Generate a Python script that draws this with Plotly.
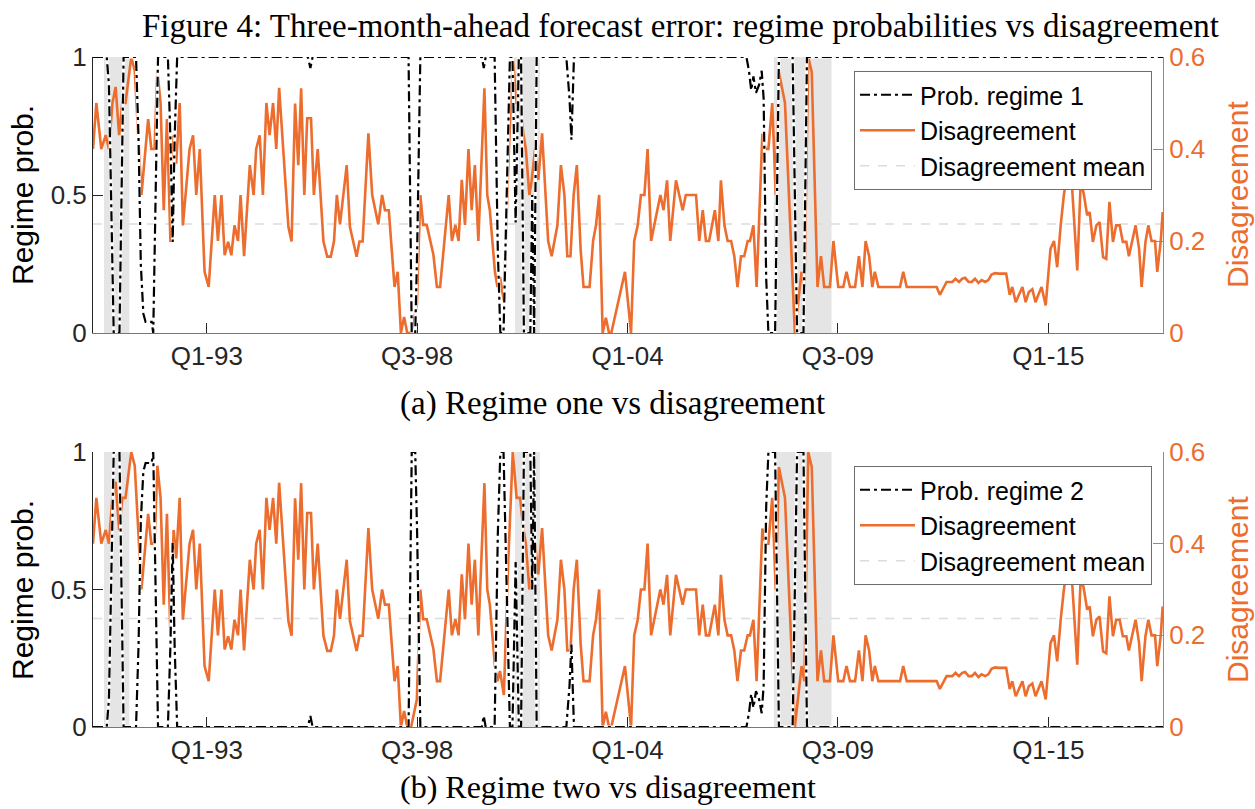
import plotly.graph_objects as go

# ---------------- data (x = months since March 1990) ----------------
disag_month = [0.0, 1.05, 2.6, 4.0, 5.0, 6.1, 7.1, 8.2, 9.2, 10.2, 12.0, 13.1, 15.2, 17.3, 18.3, 19.3,
               20.2, 21.2, 22.2, 23.2, 24.3, 25.3, 26.1, 27.2, 28.2, 30.3, 31.4, 32.4, 33.5, 35.0, 36.3,
               38.2, 39.2, 40.3, 41.3, 42.4, 43.4, 44.4, 45.5, 46.3, 47.4, 49.2, 50.4, 51.2, 52.3, 53.3,
               54.4, 55.4, 56.5, 57.5, 58.4, 61.3, 62.3, 63.4, 64.4, 65.3, 66.3, 67.2, 68.4, 69.3, 70.5,
               72.3, 73.5, 74.6, 75.6, 76.5, 77.5, 79.6, 80.6, 82.7, 83.6, 84.6, 86.4, 87.6, 89.5, 90.7,
               91.6, 92.8, 94.6, 95.6, 96.6, 97.6, 98.6, 99.8, 101.6, 102.7, 103.6, 104.7, 106.8, 107.9,
               108.9, 111.6, 112.6, 113.7, 114.7, 115.7, 116.7, 117.8, 118.8, 119.8, 120.9, 122.8, 123.7,
               124.5, 126.1, 126.9, 127.7, 128.9, 130.3, 131.7, 132.9, 134.0, 135.0, 135.8, 136.9, 137.6,
               138.7, 139.7, 140.9, 142.8, 143.9, 145.7, 146.8, 147.9, 148.8, 149.8, 150.8, 151.8, 153.0,
               153.9, 155.8, 156.9, 157.8, 158.8, 159.9, 160.9, 161.9, 162.6, 166.9, 168.8, 169.8, 170.9,
               171.9, 173.0, 174.0, 175.1, 178.0, 179.0, 180.1, 181.1, 182.9, 184.0, 185.0, 186.0, 189.2,
               190.2, 191.3, 192.3, 193.3, 195.1, 196.2, 197.0, 198.1, 199.1, 200.2, 201.2, 202.2, 203.3,
               204.3, 205.4, 206.1, 207.2, 208.2, 210.0, 211.0, 211.9, 213.1, 214.2, 215.2, 217.1, 218.7,
               220.2, 222.3, 223.2, 224.4, 225.5, 227.3, 228.4, 229.4, 231.2, 232.3, 233.8, 235.4, 236.4,
               237.5, 239.1, 240.3, 241.4, 242.4, 243.5, 244.5, 245.3, 246.4, 253.2, 254.2, 255.3, 264.7,
               265.7, 267.8, 268.8, 269.6, 270.6, 271.7, 272.7, 273.6, 274.7, 275.7, 276.7, 277.8, 278.8,
               279.9, 280.9, 281.9, 283.0, 284.2, 286.5, 287.6, 288.4, 289.5, 290.5, 291.6, 292.6, 293.6,
               294.7, 295.7, 296.6, 297.6, 298.9, 300.4, 301.5, 302.5, 303.6, 304.6, 305.7, 306.7, 308.8,
               309.9, 310.9, 311.9, 312.7, 313.7, 314.8, 315.8, 316.9, 317.9, 318.9, 320.0, 321.0, 322.1,
               323.1, 324.2, 325.0, 327.1, 328.2, 329.0, 330.2, 331.1, 332.1, 333.2, 333.9, 335.0, 335.6]
disag_value = [0.40, 0.50, 0.40, 0.43, 0.40, 0.50, 0.535, 0.43, 0.50, 0.50, 0.60, 0.57, 0.30, 0.465, 0.40, 0.40,
               0.57, 0.50, 0.267, 0.465, 0.198, 0.43, 0.368, 0.50, 0.234, 0.40, 0.43, 0.30, 0.40, 0.133, 0.10,
               0.30, 0.20, 0.30, 0.169, 0.198, 0.169, 0.234, 0.20, 0.30, 0.167, 0.365, 0.30, 0.40, 0.43, 0.30,
               0.50, 0.43, 0.50, 0.40, 0.533, 0.231, 0.199, 0.499, 0.365, 0.532, 0.30, 0.467, 0.467, 0.30, 0.40,
               0.199, 0.166, 0.166, 0.199, 0.30, 0.236, 0.365, 0.231, 0.166, 0.199, 0.199, 0.434, 0.30, 0.236, 0.30,
               0.267, 0.267, 0.10, 0.133, 0.0, 0.035, 0.0, 0.0, 0.06, 0.30, 0.235, 0.235, 0.17, 0.10,
               0.10, 0.30, 0.20, 0.235, 0.20, 0.333, 0.235, 0.40, 0.267, 0.365, 0.20, 0.532, 0.30,
               0.267, 0.133, 0.10, 0.122, 0.07, 0.365, 0.60, 0.50, 0.50, 0.434, 0.40, 0.30, 0.33,
               0.40, 0.333, 0.434, 0.20, 0.167, 0.234, 0.365, 0.30, 0.167, 0.167, 0.30, 0.365, 0.18,
               0.10, 0.10, 0.20, 0.234, 0.30, 0.0, 0.033, 0.0, 0.0, 0.133, 0.0, 0.20, 0.234,
               0.30, 0.30, 0.40, 0.20, 0.30, 0.267, 0.332, 0.20, 0.332, 0.30, 0.267, 0.30, 0.30,
               0.20, 0.267, 0.20, 0.20, 0.267, 0.20, 0.332, 0.234, 0.20, 0.20, 0.167, 0.10, 0.167,
               0.167, 0.20, 0.20, 0.234, 0.10, 0.433, 0.40, 0.40, 0.50, 0.30, 0.567, 0.50, 0.234,
               0.0, 0.133, 0.10, 0.60, 0.567, 0.10, 0.167, 0.10, 0.10, 0.20, 0.10, 0.10, 0.133,
               0.10, 0.10, 0.167, 0.10, 0.20, 0.167, 0.10, 0.133, 0.10, 0.10, 0.133, 0.10, 0.10,
               0.083, 0.111, 0.111, 0.111, 0.118, 0.111, 0.118, 0.12, 0.111, 0.111, 0.118, 0.109, 0.115,
               0.111, 0.115, 0.127, 0.13, 0.129, 0.129, 0.083, 0.10, 0.067, 0.083, 0.10, 0.067, 0.089,
               0.095, 0.067, 0.083, 0.10, 0.06, 0.183, 0.20, 0.143, 0.234, 0.30, 0.35, 0.37, 0.136,
               0.332, 0.30, 0.256, 0.263, 0.198, 0.234, 0.241, 0.165, 0.161, 0.285, 0.198, 0.234, 0.234,
               0.198, 0.198, 0.167, 0.234, 0.183, 0.10, 0.198, 0.234, 0.20, 0.20, 0.133, 0.20, 0.263]
disag_mean = 0.237

regime1_month = [0, 4.3, 5.0, 6.0, 6.5, 8.3, 9.0, 9.6, 13.5, 14.3, 15.0, 15.8, 16.5, 18.4, 18.9, 19.6,
                 20.4, 23.5, 24.3, 25.0, 25.6, 26.4, 67.4, 68.2, 68.9, 99.0, 100.0, 101.1, 101.7, 102.7,
                 122.0, 122.6, 123.2, 126.0, 127.0, 127.8, 128.8, 129.8, 130.8, 131.6, 132.6, 133.6, 134.3,
                 135.2, 137.2, 137.8, 138.4, 139.2, 148.5, 149.5, 150.1, 150.9, 205.0, 205.8, 206.5, 207.2,
                 208.0, 209.0, 209.8, 210.4, 211.2, 211.9, 214.0, 214.6, 215.2, 219.5, 220.2, 220.9, 222.9,
                 223.5, 224.0, 335.7]
regime1_prob = [1, 1, 0.9, 0.2, 0, 0, 0.5, 1, 1, 0.7, 0.25, 0.07, 0.04, 0.04, 0, 0.5,
                1, 1, 0.7, 0.33, 0.7, 1, 1, 0.96, 1, 1, 0, 0, 0.3, 1,
                1, 0.96, 1, 1, 0.3, 0, 0, 0.5, 1, 1, 0.4, 1, 1,
                0, 0, 0.5, 0, 1, 1, 0.85, 0.7, 1, 1, 0.95, 0.88, 0.93,
                0.87, 0.9, 0.95, 0.85, 0.2, 0, 0, 0.5, 1, 1, 0.5, 0, 0,
                0.5, 1, 1]

regime2_month = [0, 4.3, 5.0, 6.0, 6.5, 8.3, 9.0, 9.6, 13.5, 14.3, 15.0, 15.8, 16.5, 18.4, 18.9, 19.6,
                 20.4, 23.5, 24.3, 25.0, 25.6, 26.4, 67.4, 68.2, 68.9, 99.0, 100.0, 101.1, 101.7, 102.7,
                 122.0, 122.6, 123.2, 126.0, 127.0, 127.8, 128.8, 129.8, 130.8, 131.6, 132.6, 133.6, 134.3,
                 135.2, 137.2, 137.8, 138.4, 139.2, 148.5, 149.5, 150.1, 150.9, 205.0, 205.8, 206.5, 207.2,
                 208.0, 209.0, 209.8, 210.4, 211.2, 211.9, 214.0, 214.6, 215.2, 219.5, 220.2, 220.9, 222.9,
                 223.5, 224.0, 335.7]
regime2_prob = [0, 0, 0.1, 0.8, 1, 1, 0.5, 0, 0, 0.3, 0.75, 0.93, 0.96, 0.96, 1, 0.5,
                0, 0, 0.3, 0.67, 0.3, 0, 0, 0.04, 0, 0, 1, 1, 0.7, 0,
                0, 0.04, 0, 0, 0.7, 1, 1, 0.5, 0, 0, 0.6, 0, 0,
                1, 1, 0.5, 1, 0, 0, 0.15, 0.3, 0, 0, 0.05, 0.12, 0.07,
                0.13, 0.1, 0.05, 0.15, 0.8, 1, 1, 0.5, 0, 0, 0.5, 1, 1,
                0.5, 0, 0]

recession_start = [3.45, 132.4, 213.6]
recession_end = [11.4, 140.2, 231.7]

tick_month = [35.7, 101.7, 167.7, 233.7, 299.7]
tick_text = ["Q1-93", "Q3-98", "Q1-04", "Q3-09", "Q1-15"]
x_end = 335.7

# ---------------- style ----------------
ORANGE = "#EC6D2D"
DARK = "#262626"
SANS = "Liberation Sans"
SERIF = "Liberation Serif"
W, H = 1255, 809
L, R, T, B = 93, 92, 57, 82
plot_h = H - T - B


def py(pix):  # paper y from pixel y
    return (H - B - pix) / plot_h


def px(pix):
    return (pix - L) / (W - L - R)


fig = go.Figure()

panels = [
    dict(xa="x", ya="y", yb="y2", leg="legend", rlab="Prob. regime 1", mon=regime1_month, prob=regime1_prob),
    dict(xa="x2", ya="y3", yb="y4", leg="legend2", rlab="Prob. regime 2", mon=regime2_month, prob=regime2_prob),
]

for p in panels:
    fig.add_trace(go.Scatter(x=[0, x_end], y=[disag_mean, disag_mean], mode="lines",
                             line=dict(color="#dcdcdc", width=1.5, dash="dash"),
                             name="Disagreement mean", xaxis=p["xa"], yaxis=p["ya"],
                             legend=p["leg"], legendrank=3))
    fig.add_trace(go.Scatter(x=disag_month, y=disag_value, mode="lines",
                             line=dict(color=ORANGE, width=2.6), name="Disagreement",
                             xaxis=p["xa"], yaxis=p["ya"], legend=p["leg"], legendrank=2))
    fig.add_trace(go.Scatter(x=p["mon"], y=p["prob"], mode="lines",
                             line=dict(color="white", width=3), showlegend=False, hoverinfo="skip",
                             xaxis=p["xa"], yaxis=p["yb"]))
    fig.add_trace(go.Scatter(x=p["mon"], y=p["prob"], mode="lines",
                             line=dict(color="black", width=2.2, dash="10px,4px,3px,4px"), name=p["rlab"],
                             xaxis=p["xa"], yaxis=p["yb"], legend=p["leg"], legendrank=1))

shapes = []
for xref, yref in [("x", "y domain"), ("x2", "y3 domain")]:
    for s, e in zip(recession_start, recession_end):
        shapes.append(dict(type="rect", xref=xref, yref=yref, x0=s, x1=e, y0=0, y1=1,
                           fillcolor="#e5e5e5", line=dict(width=0), layer="below"))

p1_dom = [py(333), 1.0]
p2_dom = [0.0, py(452)]

xcommon = dict(range=[0, x_end], tickvals=tick_month, ticktext=tick_text, ticks="inside", ticklen=10,
               tickcolor=DARK, showline=True, linecolor="#8c7264", linewidth=1, showgrid=False,
               zeroline=False, tickfont=dict(family=SANS, size=26, color=DARK))
rcommon = dict(range=[0, 0.6], tickvals=[0, 0.2, 0.4, 0.6], ticktext=["0", "0.2", "0.4", "0.6"],
               side="right", ticks="inside", ticklen=10, tickcolor=ORANGE, showline=True,
               linecolor=ORANGE, linewidth=1, showgrid=False, zeroline=False,
               tickfont=dict(family=SANS, size=26, color=ORANGE))
lcommon = dict(range=[0, 1], tickvals=[0, 0.5, 1], ticktext=["0", "0.5", "1"], side="left",
               ticks="inside", ticklen=10, tickcolor=DARK, showline=True, linecolor=DARK, linewidth=1,
               showgrid=False, zeroline=False, tickfont=dict(family=SANS, size=26, color=DARK))

legcommon = dict(x=px(854), xanchor="left", yanchor="top", bgcolor="white", bordercolor="#6e6e6e",
                 borderwidth=1, font=dict(family=SANS, size=25, color="black"), itemwidth=55,
                 tracegroupgap=0)

annotations = [
    dict(text="Figure 4: Three-month-ahead forecast error: regime probabilities vs disagreement",
         x=px(140), y=py(26), xanchor="left", yanchor="middle", size=33),
    dict(text="(a) Regime one vs disagreement", x=px(398), y=py(403), xanchor="left", yanchor="middle",
         size=33),
    dict(text="(b) Regime two vs disagreement", x=px(398), y=py(787), xanchor="left", yanchor="middle",
         size=32),
]
for a in annotations:
    size = a.pop("size")
    a.update(xref="paper", yref="paper", showarrow=False, font=dict(family=SERIF, size=size, color="black"))
for yc in [195, 590]:
    annotations.append(dict(text="Regime prob.", x=px(22), y=py(yc), xref="paper", yref="paper",
                            xanchor="center", yanchor="middle", textangle=-90, showarrow=False,
                            font=dict(family=SANS, size=30, color="black")))
    annotations.append(dict(text="Disagreement", x=px(1237), y=py(yc), xref="paper", yref="paper",
                            xanchor="center", yanchor="middle", textangle=-90, showarrow=False,
                            font=dict(family=SANS, size=30, color=ORANGE)))

fig.update_layout(
    width=W, height=H, margin=dict(l=L, r=R, t=T, b=B), paper_bgcolor="white", plot_bgcolor="white",
    showlegend=True,
    xaxis=dict(domain=[0, 1], anchor="y", **xcommon),
    xaxis2=dict(domain=[0, 1], anchor="y3", **xcommon),
    yaxis=dict(domain=p1_dom, anchor="x", **rcommon),
    yaxis2=dict(domain=p1_dom, anchor="x", overlaying="y", **lcommon),
    yaxis3=dict(domain=p2_dom, anchor="x2", **rcommon),
    yaxis4=dict(domain=p2_dom, anchor="x2", overlaying="y3", **lcommon),
    legend=dict(y=py(71), **legcommon),
    legend2=dict(y=py(466), **legcommon),
    shapes=shapes, annotations=annotations,
)

fig.write_html("out.html")
